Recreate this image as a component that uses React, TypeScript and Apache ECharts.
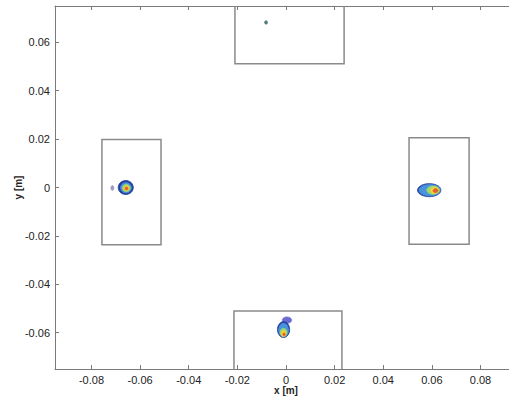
import { useEffect, useRef } from "react";
import * as echarts from "echarts";

const xTicks = [-0.08, -0.06, -0.04, -0.02, 0, 0.02, 0.04, 0.06, 0.08];
const yTicks = [-0.06, -0.04, -0.02, 0, 0.02, 0.04, 0.06];

// sensor boxes: [x0, y0, x1, y1] in metres
const sensorBoxes = [
  [-0.0757, -0.0237, -0.0514, 0.0198],
  [0.0506, -0.0235, 0.0753, 0.0206],
  [-0.021, 0.0511, 0.0239, 0.09],
  [-0.0214, -0.09, 0.023, -0.051],
];

// contour levels: [x, y, rx, ry, level]
const leftSpot = [
  [-0.0714, -0.0002, 0.0006, 0.001, 0],
  [-0.0659, 0.0, 0.0031, 0.0029, 1],
  [-0.0658, -0.0001, 0.0022, 0.0021, 2],
  [-0.0657, -0.0002, 0.0016, 0.0015, 4],
  [-0.0656, -0.0003, 0.0011, 0.001, 5],
  [-0.0656, -0.0004, 0.0006, 0.0006, 6],
];
const rightSpot = [
  [0.0589, -0.0011, 0.0048, 0.0027, 1],
  [0.0591, -0.0011, 0.0044, 0.0023, 2],
  [0.0605, -0.0011, 0.0026, 0.0017, 4],
  [0.0611, -0.0012, 0.0017, 0.0013, 5],
  [0.0615, -0.0013, 0.001, 0.0008, 6],
];
const bottomSpot = [
  [0.0004, -0.0548, 0.0019, 0.0013, 3],
  [-0.001, -0.0587, 0.0025, 0.0033, 1],
  [-0.001, -0.0589, 0.002, 0.0028, 2],
  [-0.001, -0.0599, 0.0014, 0.0017, 4],
  [-0.001, -0.0603, 0.001, 0.0012, 5],
  [-0.0008, -0.0607, 0.0005, 0.0006, 6],
];
const topSpot = [[-0.0082, 0.0682, 0.0006, 0.0007, 7]];

const levelColors = ["#9a9ac0", "#23409e", "#4a92dc", "#6a6ad0", "#9ad86e", "#f0d23c", "#e6602c", "#4f7a76"];

const font = "'Liberation Sans', Arial, sans-serif";

export default function App() {
  const ref = useRef<HTMLDivElement>(null);
  useEffect(() => {
    if (!ref.current) return;
    const chart = echarts.init(ref.current, null, { renderer: "svg" });
    const labelFmt = (v: number) => (Math.abs(v) < 1e-9 ? "0" : v.toFixed(2));
    const axisLine = { show: true, onZero: false, lineStyle: { color: "#7a7a7a", width: 1 } };
    const spots = [...leftSpot, ...rightSpot, ...bottomSpot, ...topSpot];
    chart.setOption({
      animation: false,
      backgroundColor: "#ffffff",
      grid: { left: 55, right: -8, top: 6, bottom: 31, containLabel: false, outerBoundsMode: "none" },
      xAxis: [
        {
          type: "value",
          min: -0.095,
          max: 0.095,
          position: "bottom",
          name: "x [m]",
          nameLocation: "middle",
          nameGap: 16,
          nameMoveOverlap: false,
          nameTextStyle: { fontFamily: font, fontSize: 10, fontWeight: "bold", color: "#222" },
          splitLine: { show: false },
          axisLine,
          axisTick: { show: true, inside: true, length: 4, customValues: xTicks, lineStyle: { color: "#7a7a7a" } },
          axisLabel: { customValues: xTicks, formatter: labelFmt, margin: 5, fontFamily: font, fontSize: 11, color: "#222" },
        },
        {
          type: "value",
          min: -0.095,
          max: 0.095,
          position: "top",
          splitLine: { show: false },
          axisLine,
          axisTick: { show: true, inside: true, length: 4, customValues: xTicks, lineStyle: { color: "#7a7a7a" } },
          axisLabel: { show: false },
        },
      ],
      yAxis: {
        type: "value",
        min: -0.075,
        max: 0.075,
        name: "y [m]",
        nameLocation: "middle",
        nameGap: 32,
        nameRotate: 90,
        nameMoveOverlap: false,
        nameTextStyle: { fontFamily: font, fontSize: 10, fontWeight: "bold", color: "#222" },
        splitLine: { show: false },
        axisLine,
        axisTick: { show: true, inside: true, length: 4, customValues: yTicks, lineStyle: { color: "#7a7a7a" } },
        axisLabel: { customValues: yTicks, formatter: labelFmt, margin: 5, fontFamily: font, fontSize: 11, color: "#222" },
      },
      series: [
        {
          type: "custom",
          clip: true,
          data: sensorBoxes,
          encode: { x: [0, 2], y: [1, 3] },
          renderItem: (params: any, api: any) => {
            const p0 = api.coord([api.value(0), api.value(1)]);
            const p1 = api.coord([api.value(2), api.value(3)]);
            return {
              type: "rect",
              shape: {
                x: Math.min(p0[0], p1[0]),
                y: Math.min(p0[1], p1[1]),
                width: Math.abs(p1[0] - p0[0]),
                height: Math.abs(p1[1] - p0[1]),
              },
              style: { fill: "none", stroke: "#8a8a8a", lineWidth: 1.5 },
            };
          },
        },
        {
          type: "custom",
          clip: true,
          data: spots,
          encode: { x: 0, y: 1 },
          renderItem: (params: any, api: any) => {
            const c = api.coord([api.value(0), api.value(1)]);
            const s = api.size([api.value(2), api.value(3)]);
            const lvl = api.value(4);
            const pts: number[][] = [];
            for (let i = 0; i < 36; i++) {
              const a = (i / 36) * Math.PI * 2;
              pts.push([c[0] + s[0] * Math.cos(a), c[1] + s[1] * Math.sin(a)]);
            }
            return {
              type: "polygon",
              shape: { points: pts },
              style: { fill: levelColors[lvl], stroke: levelColors[lvl], lineWidth: 0.8 },
            };
          },
        },
      ],
    });
    return () => chart.dispose();
  }, []);
  return <div ref={ref} style={{ position: "fixed", left: 0, top: 0, width: 509, height: 400 }} />;
}
